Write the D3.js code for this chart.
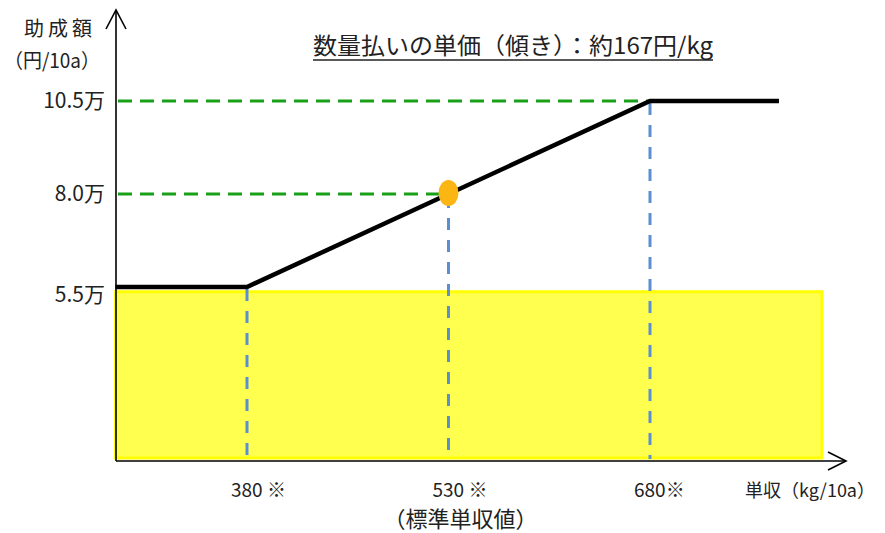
<!DOCTYPE html>
<html><head><meta charset="utf-8">
<script src="https://cdn.jsdelivr.net/npm/d3@7"></script>
<style>body{margin:0;background:#fff;}svg{display:block;}text{font-family:"Noto Sans CJK JP","Noto Sans",sans-serif;fill:#222;}</style>
</head><body>
<script>
// ---- data ----
const xTicks = [380, 530, 680];
const xTickLabels = ["380 ※", "530 ※", "680※"];
const yTicks = [5.5, 8.0, 10.5];
const yTickLabels = ["5.5万", "8.0万", "10.5万"];
const lineX = [282, 380, 680, 776];
const lineY = [5.5, 5.5, 10.5, 10.5];
const baseX = [282, 808];
const baseY = 5.4;
const standardYield = 530;
const standardPay = 8.0;
const titleText = "数量払いの単価（傾き）：約167円/kg";
const yTitle = ["助成額", "（円/10a）"];
const xTitle = "単収（kg/10a）";
const subLabel = "（標準単収値）";

// ---- layout ----
const W = 885, H = 533;
const axisX = 116, axisY = 461;
const x = d3.scaleLinear().domain([380, 680]).range([247, 650]);
const y = d3.scaleLinear().domain([5.5, 10.5]).range([287, 101]);

const svg = d3.select("body").append("svg").attr("width", W).attr("height", H);

// yellow base area
svg.append("rect")
  .attr("x", x(baseX[0])).attr("y", y(baseY) + 1)
  .attr("width", x(baseX[1]) - x(baseX[0])).attr("height", axisY - 3 - y(baseY) - 1)
  .attr("fill", "#ffff50").attr("stroke", "#ffff00").attr("stroke-width", 3);

const guides = [
  {xv: lineX[1], yv: lineY[1]},
  {xv: standardYield, yv: standardPay},
  {xv: lineX[2], yv: lineY[2]}
];

// green horizontal dashed lines (8.0 and 10.5)
guides.slice(1).forEach(g => {
  svg.append("line")
    .attr("x1", axisX + 2).attr("x2", x(g.xv)).attr("y1", y(g.yv)).attr("y2", y(g.yv))
    .attr("stroke", "#18a018").attr("stroke-width", 3).attr("stroke-dasharray", "14,8");
});
// blue vertical dashed lines
guides.forEach(g => {
  svg.append("line")
    .attr("x1", x(g.xv)).attr("x2", x(g.xv)).attr("y1", y(g.yv) + 2).attr("y2", axisY - 2)
    .attr("stroke", "#5a8fd2").attr("stroke-width", 3).attr("stroke-dasharray", "12,10");
});

// black payment line
const pts = lineX.map((v, i) => [v, lineY[i]]);
svg.append("path")
  .attr("d", d3.line().x(d => x(d[0])).y(d => y(d[1]))(pts))
  .attr("fill", "none").attr("stroke", "#000").attr("stroke-width", 4.5);

// orange point
svg.append("ellipse")
  .attr("cx", x(standardYield)).attr("cy", y(standardPay) - 1)
  .attr("rx", 10).attr("ry", 13).attr("fill", "#fbb614");

// axes
svg.append("line").attr("x1", axisX).attr("x2", axisX).attr("y1", 11).attr("y2", axisY)
  .attr("stroke", "#000").attr("stroke-width", 1.6);
svg.append("path").attr("d", `M${axisX-10},${29}L${axisX},${10}L${axisX+10},${29}`)
  .attr("fill", "none").attr("stroke", "#000").attr("stroke-width", 1.6);
svg.append("line").attr("x1", axisX).attr("x2", 846).attr("y1", axisY).attr("y2", axisY)
  .attr("stroke", "#000").attr("stroke-width", 1.6);
svg.append("path").attr("d", `M828,${axisY-9}L846,${axisY}L828,${axisY+9}`)
  .attr("fill", "none").attr("stroke", "#000").attr("stroke-width", 1.6);

// y tick labels
svg.selectAll(".yt").data(yTicks).enter().append("text")
  .attr("x", 105).attr("y", (d, i) => y(d) + (d === 5.5 ? 8 : 0))
  .attr("dy", "0.35em").attr("text-anchor", "end").attr("font-size", 21)
  .text((d, i) => yTickLabels[i]);

// x tick labels
svg.selectAll(".xt").data(xTicks).enter().append("text")
  .attr("x", d => x(d) - 16).attr("y", 497)
  .attr("font-size", 19)
  .text((d, i) => xTickLabels[i]);

// y title
svg.append("text").attr("x", 58).attr("y", 36).attr("text-anchor", "middle").attr("font-size", 20)
  .attr("textLength", 68).attr("lengthAdjust", "spacing").text(yTitle[0]);
svg.append("text").attr("x", 52).attr("y", 68).attr("text-anchor", "middle").attr("font-size", 20)
  .attr("textLength", 96).attr("lengthAdjust", "spacingAndGlyphs").text(yTitle[1]);

// x title
svg.append("text").attr("x", 745).attr("y", 497).attr("font-size", 18)
  .attr("textLength", 130).attr("lengthAdjust", "spacingAndGlyphs").text(xTitle);
svg.append("text").attr("x", x(standardYield) + 12).attr("y", 527).attr("text-anchor", "middle").attr("font-size", 22).text(subLabel);

// chart title with underline
svg.append("text").attr("x", 313).attr("y", 54).attr("font-size", 23)
  .attr("textLength", 400).attr("lengthAdjust", "spacingAndGlyphs").text(titleText);
svg.append("line").attr("x1", 313).attr("x2", 713).attr("y1", 60).attr("y2", 60)
  .attr("stroke", "#222").attr("stroke-width", 1.3);
</script>
</body></html>
